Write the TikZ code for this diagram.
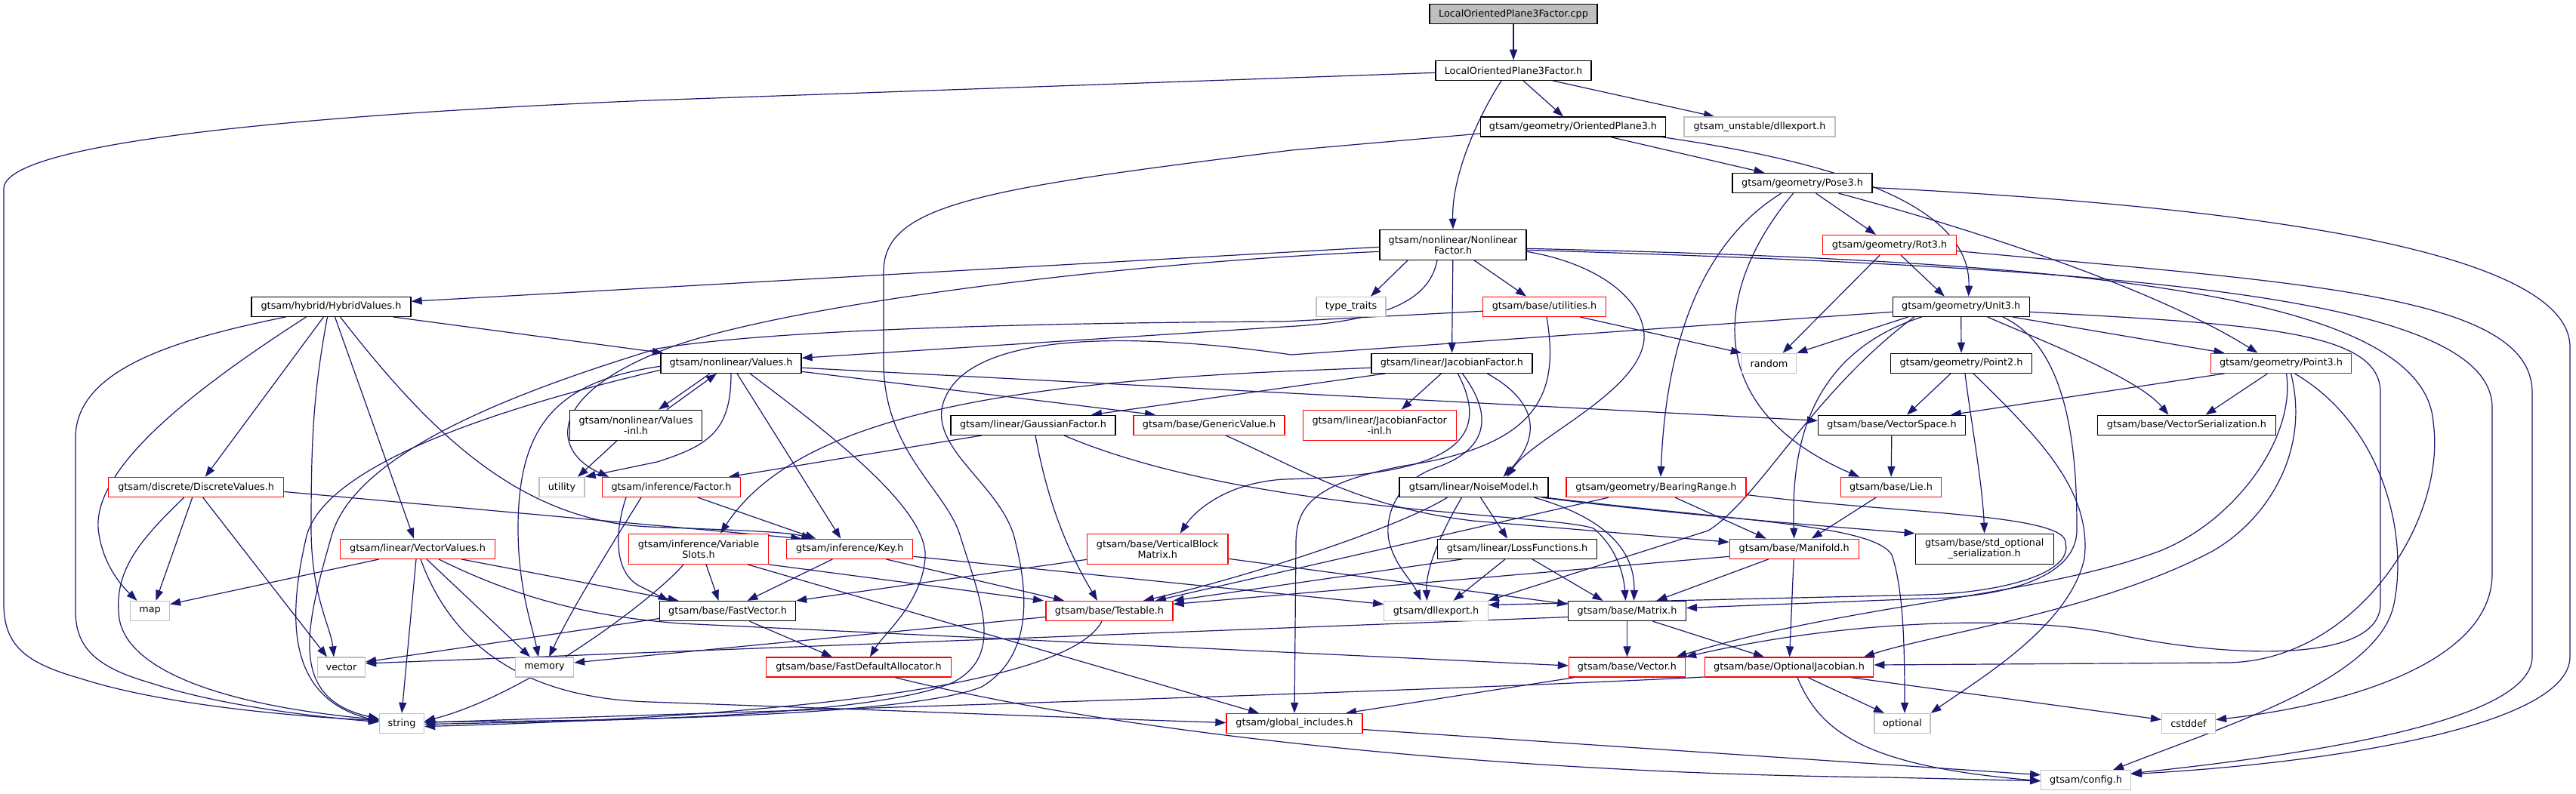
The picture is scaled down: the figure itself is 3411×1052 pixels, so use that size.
\documentclass[tikz,border=0pt]{standalone}
\usepackage{fontspec}
\setmainfont{DejaVu Sans}
\usetikzlibrary{arrows.meta}
\pgfdeclarelayer{bg}
\pgfsetlayers{bg,main}
\definecolor{edgec}{HTML}{191970}
\definecolor{greyb}{HTML}{BFBFBF}
\definecolor{redb}{HTML}{FF0000}
\begin{document}
\begin{tikzpicture}[x=1pt,y=-1pt,
  nb/.style={draw=black, fill=white, line width=1.3pt, rectangle, inner sep=0pt, minimum height=26pt,
             font=\fontsize{12.8}{14}\selectfont, text=black, align=center},
  nr/.style={nb, draw=redb},
  ng/.style={nb, draw=greyb},
  two/.style={minimum height=40pt},
  e/.style={draw=edgec, line width=1.2pt, -{Triangle[length=14pt,width=10pt]}}]
\useasboundingbox (0,0) rectangle (3411,1052);
% ---------------- nodes ----------------
\node[nb, fill=greyb, minimum width=222] (cpp) at (2004,18.7) {LocalOrientedPlane3Factor.cpp};
\node[nb, minimum width=206] (lop) at (2004,93.3) {LocalOrientedPlane3Factor.h};
\node[nb, minimum width=245] (op3) at (2083,168) {gtsam/geometry/OrientedPlane3.h};
\node[ng, minimum width=200] (udll) at (2330,168) {gtsam\_unstable/dllexport.h};
\node[nb, minimum width=185] (pose3) at (2386.5,242.5) {gtsam/geometry/Pose3.h};
\node[nb, two, minimum width=194] (nlf) at (1924,324.3) {gtsam/nonlinear/Nonlinear\\Factor.h};
\node[nr, minimum width=177] (rot3) at (2502,324.5) {gtsam/geometry/Rot3.h};
\node[nb, minimum width=211] (hyb) at (438.5,406.3) {gtsam/hybrid/HybridValues.h};
\node[ng, minimum width=92] (tt) at (1789,406.3) {type\_traits};
\node[nr, minimum width=163] (util) at (2045,406.3) {gtsam/base/utilities.h};
\node[nb, minimum width=181] (unit3) at (2596.7,406.3) {gtsam/geometry/Unit3.h};
\node[nb, minimum width=186] (values) at (968,481.3) {gtsam/nonlinear/Values.h};
\node[nb, minimum width=213] (jf) at (1922.4,481.3) {gtsam/linear/JacobianFactor.h};
\node[ng, minimum width=72] (rnd) at (2342.5,481.3) {random};
\node[nb, minimum width=187] (point2) at (2597,481.3) {gtsam/geometry/Point2.h};
\node[nr, minimum width=186.5] (point3) at (3020.5,481.3) {gtsam/geometry/Point3.h};
\node[nb, minimum width=218] (gf) at (1368,563.3) {gtsam/linear/GaussianFactor.h};
\node[nr, minimum width=200] (gv) at (1601,563.3) {gtsam/base/GenericValue.h};
\node[nb, two, minimum width=174.5] (vinl) at (842,563.3) {gtsam/nonlinear/Values\\-inl.h};
\node[nr, two, minimum width=203] (jfinl) at (1826.7,563.3) {gtsam/linear/JacobianFactor\\-inl.h};
\node[nb, minimum width=195] (vspace) at (2505,563.3) {gtsam/base/VectorSpace.h};
\node[nb, minimum width=236] (vser) at (2895.5,563.3) {gtsam/base/VectorSerialization.h};
\node[nr, minimum width=232] (dv) at (259.7,645.5) {gtsam/discrete/DiscreteValues.h};
\node[ng, minimum width=60] (utility) at (744,645.5) {utility};
\node[nr, minimum width=183] (factor) at (889,645.5) {gtsam/inference/Factor.h};
\node[nb, minimum width=197] (nm) at (1951.5,645.5) {gtsam/linear/NoiseModel.h};
\node[nr, minimum width=238] (br) at (2193,645.5) {gtsam/geometry/BearingRange.h};
\node[nr, minimum width=133] (lie) at (2504,645.5) {gtsam/base/Lie.h};
\node[nr, minimum width=205] (vv) at (553,727.3) {gtsam/linear/VectorValues.h};
\node[nr, two, minimum width=185] (vs) at (925,727.3) {gtsam/inference/Variable\\Slots.h};
\node[nr, minimum width=167] (key) at (1125.3,727.3) {gtsam/inference/Key.h};
\node[nr, two, minimum width=186.5] (vbm) at (1532.8,727.3) {gtsam/base/VerticalBlock\\Matrix.h};
\node[nb, minimum width=211] (lf) at (2009,727.3) {gtsam/linear/LossFunctions.h};
\node[nr, minimum width=171] (manifold) at (2375.7,727.3) {gtsam/base/Manifold.h};
\node[nb, two, minimum width=183] (stdopt) at (2627.7,727.3) {gtsam/base/std\_optional\\\_serialization.h};
\node[ng, minimum width=52] (map) at (198.5,809.5) {map};
\node[nb, minimum width=180] (fv) at (963.5,809.5) {gtsam/base/FastVector.h};
\node[nr, minimum width=168] (testable) at (1469,809.5) {gtsam/base/Testable.h};
\node[ng, minimum width=137.5] (dll) at (1901.5,809.5) {gtsam/dllexport.h};
\node[nb, minimum width=155.5] (matrix) at (2154.5,809.5) {gtsam/base/Matrix.h};
\node[ng, minimum width=63] (vector) at (452,884) {vector};
\node[ng, minimum width=77] (memory) at (721,884) {memory};
\node[nr, minimum width=245] (fda) at (1137,884) {gtsam/base/FastDefaultAllocator.h};
\node[nr, minimum width=154] (vec) at (2154.5,884) {gtsam/base/Vector.h};
\node[nr, minimum width=223.5] (oj) at (2369,884) {gtsam/base/OptionalJacobian.h};
\node[ng, minimum width=59] (string) at (532,958.5) {string};
\node[nr, minimum width=180] (gi) at (1714,958.5) {gtsam/global\_includes.h};
\node[ng, minimum width=74] (optional) at (2519,958.5) {optional};
\node[ng, minimum width=71] (cstddef) at (2898,958.5) {cstddef};
\node[ng, minimum width=118.5] (config) at (2762,1033.7) {gtsam/config.h};
% ---------------- edges ----------------
\begin{pgfonlayer}{bg}
\fill[white] (0,0) rectangle (3411,1052);
% cpp, lop
\draw[e] (cpp) -- (lop);
\draw[e] ([xshift=-16]lop.south) .. controls (1960,150) and (1922,230) .. (nlf.north);
\draw[e] ([xshift=13]lop.south) -- ([xshift=-13]op3.north);
\draw[e] ([xshift=52]lop.south) -- ([xshift=-60]udll.north);
\draw[e] ([yshift=-3]lop.west) -- (860,133) .. controls (450,150) and (5,185) .. (5,250) -- (5,800) .. controls (5,860) and (40,880) .. (110,900) .. controls (220,935) and (400,950) .. ([yshift=4]string.west);
% op3
\draw[e] ([xshift=50]op3.south) -- ([xshift=-50]pose3.north);
\draw[e] ([xshift=118]op3.south) .. controls (2430,215) and (2610,270) .. ([xshift=10]unit3.north);
\draw[e] ([yshift=-9]op3.west) -- (1710,199) .. controls (1300,250) and (1170,270) .. (1170,360) -- (1170,480) .. controls (1170,600) and (1255,650) .. (1272,712) .. controls (1300,800) and (1330,870) .. (1260,905) .. controls (1150,950) and (800,955) .. ([yshift=-1]string.east);
% pose3
\draw[e] ([xshift=18]pose3.south) -- ([xshift=-18]rot3.north);
\draw[e] ([xshift=48]pose3.south) .. controls (2600,300) and (2850,380) .. ([xshift=-31]point3.north);
\draw[e] ([xshift=-12]pose3.south) .. controls (2270,380) and (2250,540) .. ([xshift=-42]lie.north);
\draw[e] ([xshift=-28]pose3.south) .. controls (2240,330) and (2205,480) .. ([xshift=6]br.north);
\draw[e] ([yshift=-6]pose3.east) .. controls (2900,270) and (3403,320) .. (3403,460) -- (3403,870) .. controls (3403,960) and (3100,1010) .. ([yshift=8]config.east);
% rot3
\draw[e] ([xshift=15]rot3.south) -- ([xshift=-22]unit3.north);
\draw[e] ([xshift=-13]rot3.south) -- ([xshift=18]rnd.north);
\draw[e] ([yshift=-8]rot3.east) .. controls (3050,375) and (3353,390) .. (3353,520) -- (3353,870) .. controls (3353,950) and (3100,995) .. ([yshift=9]config.east);
% nlf
\draw[e] ([yshift=-3]nlf.west) -- ([yshift=7]hyb.east);
\draw[e] ([xshift=-21]nlf.south) .. controls (1895,385) and (1860,425) .. (1700,433) -- ([yshift=7]values.east);
\draw[e] ([yshift=-9]nlf.west) .. controls (1450,350) and (1000,410) .. (868,468) .. controls (720,530) and (735,600) .. ([xshift=-83]factor.north);
\draw[e] ([xshift=-60]nlf.south) -- ([xshift=26]tt.north);
\draw[e] ([xshift=28]nlf.south) -- ([xshift=-24]util.north);
\draw[e] (nlf) -- (jf);
\draw[e] ([yshift=-9]nlf.east) .. controls (2120,350) and (2180,400) .. (2177,450) .. controls (2170,520) and (2030,580) .. ([xshift=44]nm.north);
\draw[e] ([yshift=-5]nlf.east) .. controls (2700,345) and (3210,380) .. (3222,560) .. controls (3240,690) and (3120,875) .. (2950,878) -- ([yshift=3]oj.east);
\draw[e] ([yshift=-7]nlf.east) .. controls (2800,355) and (3300,390) .. (3300,540) -- (3300,760) .. controls (3300,880) and (3100,935) .. ([yshift=5]cstddef.east);
% hyb
\draw[e] ([xshift=-60]hyb.south) .. controls (230,450) and (100,490) .. (100,580) -- (100,810) .. controls (100,860) and (130,885) .. (200,905) .. controls (290,935) and (420,950) .. ([yshift=2]string.west);
\draw[e] ([xshift=-33]hyb.south) .. controls (250,520) and (125,620) .. (130,700) .. controls (135,750) and (165,780) .. ([xshift=-17]map.north);
\draw[e] ([xshift=-10]hyb.south) -- ([xshift=12]dv.north);
\draw[e] ([xshift=-5]hyb.south) .. controls (415,520) and (412,580) .. (412,700) .. controls (412,790) and (438,830) .. ([xshift=-10]vector.north);
\draw[e] ([xshift=5]hyb.south) -- ([xshift=-5]vv.north);
\draw[e] ([xshift=12]hyb.south) .. controls (560,560) and (680,690) .. (860,698) .. controls (960,702) and (1040,704) .. ([xshift=-50]key.north);
\draw[e] ([xshift=82]hyb.south) -- ([xshift=-90]values.north);
% dv
\draw[e] ([xshift=-16]dv.south) .. controls (180,720) and (150,760) .. (158,820) .. controls (170,890) and (300,935) .. ([yshift=5]string.west);
\draw[e] ([xshift=-5]dv.south) -- ([xshift=8]map.north);
\draw[e] ([xshift=9]dv.south) -- ([xshift=-19]vector.north);
\draw[e] ([yshift=-6]dv.east) -- ([xshift=-64]key.north);
% vv
\draw[e] ([xshift=-51]vv.south) -- ([yshift=9]map.east);
\draw[e] ([xshift=-2]vv.south) -- (string.north);
\draw[e] ([xshift=4]vv.south) .. controls (600,860) and (700,925) .. (860,930) .. controls (1200,942) and (1450,952) .. ([yshift=1]gi.west);
\draw[e] ([xshift=12]vv.south) -- ([xshift=-19]memory.north);
\draw[e] ([xshift=28]vv.south) .. controls (700,800) and (800,818) .. (900,826) -- ([yshift=2]vec.west);
\draw[e] ([xshift=58]vv.south) -- ([xshift=-65]fv.north);
% values
\draw[e] ([xshift=-28]values.south) -- ([xshift=30]vinl.north);
\draw[e] ([xshift=41]vinl.north) -- ([xshift=-19]values.south);
\draw[e] ([xshift=-25]vinl.south) -- ([xshift=21]utility.north);
\draw[e] (values.south) .. controls (968,570) and (940,590) .. (870,612) -- (utility.north east);
\draw[e] ([xshift=8]values.south) -- ([xshift=-12]key.north);
\draw[e] ([xshift=25]values.south) .. controls (1120,590) and (1230,680) .. (1225,740) .. controls (1220,800) and (1170,840) .. ([xshift=15]fda.north);
\draw[e] ([yshift=-6]values.east) -- ([yshift=6]vspace.west);
\draw[e] ([yshift=-11]values.east) -- ([xshift=-71]gv.north);
\draw[e] ([yshift=-4]values.west) .. controls (740,505) and (686,560) .. (686,700) .. controls (686,780) and (705,830) .. ([xshift=-8]memory.north);
\draw[e] ([yshift=-9]values.west) .. controls (640,545) and (430,620) .. (406,710) .. controls (380,820) and (380,925) .. ([yshift=3]string.west);
% util
\draw[e] ([xshift=47]util.south) -- (rnd.north west);
\draw[e] ([xshift=3]util.south) .. controls (2065,520) and (2040,590) .. (1860,617) .. controls (1740,640) and (1716,670) .. (1716,720) -- (gi.north);
\draw[e] ([yshift=-6]util.west) -- (1700,426) .. controls (1300,428) and (1000,440) .. (870,462) .. controls (680,520) and (470,600) .. (439,710) .. controls (405,830) and (380,925) .. ([yshift=6]string.west);
% factor
\draw[e] ([xshift=35]factor.south) -- ([xshift=-45]key.north);
\draw[e] ([xshift=-60]factor.south) .. controls (815,700) and (810,760) .. (850,778) -- ([xshift=-78]fv.north);
\draw[e] ([xshift=-40]factor.south) .. controls (830,690) and (760,800) .. ([xshift=6]memory.north);
% gf
\draw[e] ([xshift=-68]gf.south) -- ([xshift=76]factor.north);
\draw[e] ([xshift=3]gf.south) .. controls (1390,680) and (1420,740) .. ([xshift=-16]testable.north);
\draw[e] ([xshift=41]gf.south) .. controls (1650,680) and (2050,680) .. (2110,700) .. controls (2140,725) and (2150,760) .. ([xshift=-2]matrix.north);
% gv
\draw[e] ([xshift=22]gv.south) .. controls (1720,620) and (1800,672) .. (1950,690) -- ([yshift=9]manifold.west);
% jf
\draw[e] ([xshift=-14]jf.south) -- ([xshift=29]jfinl.north);
\draw[e] ([xshift=8]jf.south) .. controls (1975,580) and (1930,630) .. (1700,635) .. controls (1620,640) and (1580,680) .. ([xshift=30]vbm.north);
\draw[e] ([xshift=14]jf.south) .. controls (1985,560) and (1960,600) .. (1900,620) .. controls (1845,640) and (1832,690) .. (1840,720) .. controls (1848,750) and (1870,770) .. ([xshift=-20]dll.north);
\draw[e] ([xshift=47]jf.south) .. controls (2050,540) and (2030,590) .. ([xshift=39]nm.north);
\draw[e] ([yshift=-6]jf.west) -- (1700,492) .. controls (1300,510) and (1050,560) .. ([xshift=29]vs.north);
\draw[e] ([xshift=-88]jf.south) -- ([xshift=77]gf.north);
% nm
\draw[e] ([xshift=-35]nm.south) .. controls (1850,700) and (1650,765) .. ([xshift=45]testable.north);
\draw[e] ([xshift=-16]nm.south) .. controls (1900,720) and (1888,760) .. ([xshift=-12]dll.north);
\draw[e] ([xshift=9]nm.south) -- ([xshift=-13]lf.north);
\draw[e] ([xshift=80]nm.south) .. controls (2140,690) and (2165,740) .. ([xshift=9]matrix.north);
\draw[e] ([xshift=90]nm.south) .. controls (2200,680) and (2450,700) .. (stdopt.north west);
\draw[e] ([xshift=95]nm.south) .. controls (2300,690) and (2480,695) .. (2505,735) .. controls (2520,780) and (2522,850) .. ([xshift=3]optional.north);
% lf
\draw[e] ([xshift=-16]lf.south) -- ([xshift=23]dll.north);
\draw[e] ([xshift=20]lf.south) -- ([xshift=-32]matrix.north);
\draw[e] ([xshift=-73]lf.south) -- (testable.north east);
% manifold
\draw[e] ([xshift=-34]manifold.south) -- ([xshift=39]matrix.north);
\draw[e] (manifold) -- (oj);
\draw[e] ([yshift=-10]manifold.west) -- ([yshift=9]testable.east);
% lie, br
\draw[e] ([xshift=-20]lie.south) -- ([xshift=23]manifold.north);
\draw[e] ([xshift=25]br.south) -- ([xshift=-37]manifold.north);
\draw[e] ([xshift=-63]br.south) -- ([xshift=61]testable.north);
\draw[e] ([yshift=-10]br.east) .. controls (2500,680) and (2740,680) .. (2735,720) .. controls (2745,760) and (2650,785) .. (2550,788) -- ([yshift=8]dll.east);
% unit3
\draw[e] ([xshift=-70]unit3.south) -- (rnd.north east);
\draw[e] (unit3) -- (point2);
\draw[e] ([xshift=68]unit3.south) -- ([xshift=-75]point3.north);
\draw[e] ([xshift=35]unit3.south) .. controls (2700,450) and (2830,500) .. ([xshift=-24]vser.north);
\draw[e] ([xshift=-52]unit3.south) .. controls (2390,470) and (2372,600) .. (manifold.north);
\draw[e] ([xshift=-62]unit3.south) .. controls (2400,520) and (2330,660) .. (2262,703) -- (dll.north east);
\draw[e] ([xshift=55]unit3.south) .. controls (2740,460) and (2750,600) .. (2750,700) .. controls (2752,770) and (2640,792) .. (2550,793) -- ([yshift=4]matrix.east);
\draw[e] ([yshift=-7]unit3.east) .. controls (3000,430) and (3152,440) .. (3152,520) -- (3152,800) .. controls (3152,880) and (2950,872) .. (2800,840) .. controls (2680,815) and (2450,820) .. (vec.north east);
\draw[e] ([yshift=-7]unit3.west) -- (1710,470) .. controls (1500,440) and (1300,440) .. (1255,520) .. controls (1215,590) and (1330,640) .. (1345,720) .. controls (1370,820) and (1350,880) .. (1300,910) .. controls (1200,950) and (800,955) .. ([yshift=2]string.east);
% point2
\draw[e] ([xshift=-14]point2.south) -- ([xshift=20]vspace.north);
\draw[e] ([xshift=5]point2.south) .. controls (2610,560) and (2625,640) .. (stdopt.north);
\draw[e] ([xshift=16]point2.south) .. controls (2700,580) and (2770,650) .. (2760,740) .. controls (2740,830) and (2620,900) .. (optional.north east);
% point3
\draw[e] ([xshift=-75]point3.south) -- ([xshift=78]vspace.north);
\draw[e] ([xshift=-18]point3.south) -- ([xshift=25]vser.north);
\draw[e] ([xshift=7]point3.south) .. controls (3040,580) and (2960,690) .. (2860,730) .. controls (2700,790) and (2450,800) .. ([xshift=65]vec.north);
\draw[e] ([xshift=13]point3.south) .. controls (3060,600) and (3000,690) .. (2930,730) .. controls (2780,810) and (2560,840) .. ([xshift=99]oj.north);
\draw[e] ([xshift=18]point3.south) .. controls (3150,560) and (3190,700) .. (3170,800) .. controls (3150,900) and (2950,960) .. ([xshift=36]config.north);
% vspace
\draw[e] (vspace) -- (lie);
% vs
\draw[e] ([xshift=10]vs.south) -- ([xshift=-12]fv.north);
\draw[e] (vs.south east) -- ([xshift=-87]testable.north);
\draw[e] ([xshift=65]vs.south) -- ([xshift=-47]gi.north);
\draw[e] ([xshift=-20]vs.south) .. controls (870,790) and (700,920) .. ([yshift=3]string.east);
% key
\draw[e] ([xshift=-23]key.south) -- ([xshift=26]fv.north);
\draw[e] ([xshift=48]key.south) -- ([xshift=-60]testable.north);
\draw[e] ([yshift=-10]key.east) -- ([yshift=9]dll.west);
% vbm
\draw[e] ([yshift=-14]vbm.west) -- (fv.north east);
\draw[e] ([yshift=-13]vbm.east) -- ([yshift=9]matrix.west);
% testable
\draw[e] ([xshift=-10]testable.south) .. controls (1420,900) and (1100,948) .. ([yshift=-4]string.east);
\draw[e] ([yshift=-8]testable.west) -- ([yshift=6]memory.east);
% fv
\draw[e] ([yshift=-10]fv.west) -- ([yshift=7]vector.east);
\draw[e] ([xshift=29]fv.south) -- ([xshift=-35]fda.north);
% fda
\draw[e] ([xshift=48]fda.south) .. controls (1500,975) and (2000,1025) .. (2500,1030) -- ([yshift=-1]config.west);
% matrix
\draw[e] ([yshift=-8]matrix.west) -- ([yshift=5]vector.east);
\draw[e] (matrix) -- (vec);
\draw[e] ([xshift=34]matrix.south) -- ([xshift=-33]oj.north);
% vec
\draw[e] ([xshift=-70]vec.south) -- ([xshift=68]gi.north);
% oj
\draw[e] ([yshift=-13]oj.west) .. controls (1800,920) and (900,945) .. ([yshift=1]string.east);
\draw[e] ([xshift=25]oj.south) -- ([xshift=-24]optional.north);
\draw[e] ([xshift=11]oj.south) .. controls (2410,970) and (2470,1015) .. ([yshift=-1]config.west);
\draw[e] ([xshift=82]oj.south) -- ([yshift=5]cstddef.west);
% gi
\draw[e] ([yshift=-8]gi.east) -- ([yshift=7]config.west);
\end{pgfonlayer}
\end{tikzpicture}
\end{document}
